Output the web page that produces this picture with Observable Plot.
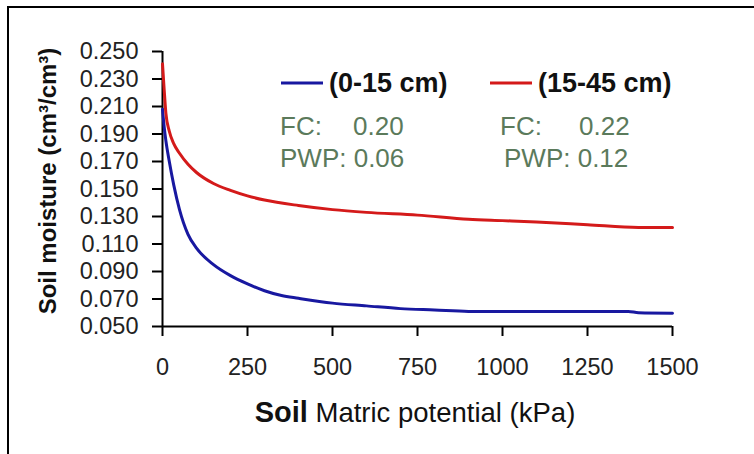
<!DOCTYPE html>
<html><head><meta charset="utf-8">
<script src="https://cdn.jsdelivr.net/npm/d3@7"></script>
<script src="https://cdn.jsdelivr.net/npm/@observablehq/plot@0.6"></script>
<style>
body{margin:0;background:#fff;}
#wrap{position:relative;width:754px;height:454px;overflow:hidden;background:#fff;}
#frame{position:absolute;left:7px;top:6px;width:800px;height:500px;border-left:2px solid #000;border-top:2px solid #000;}
#wrap svg{position:absolute;left:0;top:0;}
</style></head><body><div id="wrap"><div id="frame"></div></div>
<script>
// Series: 0-15 cm layer
const kpaTop = [0, 5, 10, 20, 33, 50, 75, 100, 150, 200, 250, 300, 350, 400, 500, 600, 700, 800, 900, 1000, 1200, 1370, 1400, 1500];
const moistTop = [0.208, 0.195, 0.185, 0.170, 0.153, 0.135, 0.117, 0.107, 0.095, 0.087, 0.081, 0.076, 0.0725, 0.0705, 0.067, 0.065, 0.063, 0.062, 0.061, 0.061, 0.061, 0.061, 0.060, 0.0597];
// Series: 15-45 cm layer
const kpaSub = [0, 5, 10, 20, 33, 50, 75, 100, 150, 200, 250, 300, 400, 500, 600, 750, 900, 1000, 1100, 1250, 1400, 1500];
const moistSub = [0.241, 0.222, 0.205, 0.192, 0.183, 0.176, 0.168, 0.162, 0.154, 0.149, 0.145, 0.142, 0.138, 0.135, 0.133, 0.131, 0.128, 0.127, 0.126, 0.124, 0.122, 0.122];
const seriesNames = ["(0-15 cm)", "(15-45 cm)"];
const seriesColors = ["#1818a0", "#d41a1a"];
const fcValues = ["0.20", "0.22"];
const pwpValues = ["0.06", "0.12"];
const xTicks = [0, 250, 500, 750, 1000, 1250, 1500];
const yTicks = [0.05, 0.07, 0.09, 0.11, 0.13, 0.15, 0.17, 0.19, 0.21, 0.23, 0.25];

const rows = [
  ...kpaTop.map((k, i) => ({kpa: k, m: moistTop[i], s: seriesNames[0]})),
  ...kpaSub.map((k, i) => ({kpa: k, m: moistSub[i], s: seriesNames[1]}))
];

const font = "'Liberation Sans', Arial, sans-serif";
const chart = Plot.plot({
  width: 754, height: 454,
  marginLeft: 162, marginRight: 82, marginTop: 51, marginBottom: 128,
  style: {fontFamily: font, background: "transparent", color: "#222"},
  x: {domain: [0, 1500]},
  y: {domain: [0.05, 0.25]},
  color: {domain: seriesNames, range: seriesColors},
  marks: [
    Plot.axisY({ticks: yTicks, tickFormat: d3.format(".3f"), tickSize: 10, tickPadding: 14, fontSize: 23.5, strokeWidth: 2, stroke: "#000", label: null}),
    Plot.axisX({ticks: xTicks, tickFormat: d3.format("d"), tickSize: 10, tickPadding: 22, fontSize: 23.5, strokeWidth: 2, stroke: "#000", label: null}),
    Plot.ruleX([0], {stroke: "#000", strokeWidth: 2}),
    Plot.ruleY([0.05], {stroke: "#000", strokeWidth: 2}),
    Plot.line(rows, {x: "kpa", y: "m", z: "s", stroke: "s", strokeWidth: 3, curve: "monotone-x"})
  ]
});
document.getElementById("wrap").appendChild(chart);

const svg = d3.select(chart);
const g = svg.append("g").attr("text-anchor", "start");
// axis titles
g.append("text")
  .attr("transform", "translate(48,181) rotate(-90)")
  .attr("text-anchor", "middle").attr("dy", "0.35em")
  .style("font", `bold 24px ${font}`).attr("fill", "#111")
  .text("Soil moisture (cm³/cm³)");
const xt = g.append("text")
  .attr("x", 415).attr("y", 418).attr("text-anchor", "middle").attr("dy", "0.35em")
  .style("font-family", font).attr("fill", "#111");
xt.append("tspan").style("font-weight", "bold").style("font-size", "29px").text("Soil");
xt.append("tspan").style("font-size", "27.5px").text(" Matric potential (kPa)");

// legend
const legendX = [281, 490];
seriesNames.forEach((name, i) => {
  g.append("line").attr("x1", legendX[i]).attr("x2", legendX[i] + 42)
    .attr("y1", 83).attr("y2", 83).attr("stroke", seriesColors[i]).attr("stroke-width", 3);
  g.append("text").attr("x", legendX[i] + 48).attr("y", 83).attr("dy", "0.35em")
    .style("font", `bold 27px ${font}`).attr("fill", "#111").text(name);
});
// FC / PWP notes
const noteX = [280, 500];
const valX = [353, 579];
const green = "#5b7a5b";
fcValues.forEach((v, i) => {
  g.append("text").attr("x", noteX[i]).attr("y", 126).attr("dy", "0.35em")
    .style("font", `26px ${font}`).attr("fill", green).text("FC:");
  g.append("text").attr("x", valX[i]).attr("y", 126).attr("dy", "0.35em")
    .style("font", `26px ${font}`).attr("fill", green).text(v);
  g.append("text").attr("x", noteX[i] + (i ? 4 : 0)).attr("y", 158).attr("dy", "0.35em")
    .style("font", `26px ${font}`).attr("fill", green).text("PWP: " + pwpValues[i]);
});
</script></body></html>
